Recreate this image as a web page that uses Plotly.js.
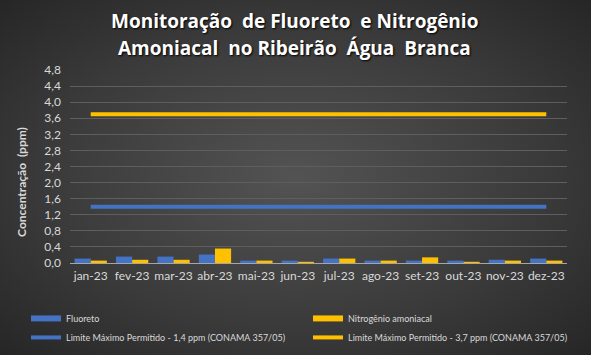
<!DOCTYPE html>
<html><head><meta charset="utf-8">
<script src="https://cdn.plot.ly/plotly-3.0.1.min.js"></script>
<style>
html,body{margin:0;padding:0;}
#chart{width:591px;height:355px;background:radial-gradient(ellipse at 50% 50%, #535353 0%, #3a3a3a 60%, #262626 100%);}
</style></head>
<body><div id="chart"></div>
<script>
const months = ['jan-23','fev-23','mar-23','abr-23','mai-23','jun-23','jul-23','ago-23','set-23','out-23','nov-23','dez-23'];
const fluoreto = [0.11,0.16,0.16,0.21,0.06,0.06,0.11,0.06,0.06,0.06,0.08,0.11];
const nitrogenio = [0.06,0.08,0.08,0.36,0.06,0.03,0.11,0.06,0.14,0.03,0.06,0.06];
const limiteFluoreto = [1.4,1.4,1.4,1.4,1.4,1.4,1.4,1.4,1.4,1.4,1.4,1.4];
const limiteNitrogenio = [3.7,3.7,3.7,3.7,3.7,3.7,3.7,3.7,3.7,3.7,3.7,3.7];
const yTicks = [0,0.4,0.8,1.2,1.6,2.0,2.4,2.8,3.2,3.6,4.0,4.4,4.8];
const titleLines = ['Monitoração  de Fluoreto  e Nitrogênio', 'Amoniacal  no Ribeirão  Água  Branca'];
const yTitle = 'Concentração  (ppm)';

const blue = '#4472C4', gold = '#FFC000';
const txt = '#d9d9d9';
const traces = [
  {type:'bar', x:months, y:fluoreto, name:'Fluoreto', marker:{color:blue}, showlegend:false, hoverinfo:'y'},
  {type:'bar', x:months, y:nitrogenio, name:'Nitrogênio amoniacal', marker:{color:gold}, showlegend:false, hoverinfo:'y'},
  {type:'scatter', mode:'lines', x:[null], y:[null], name:'Fluoreto', line:{color:blue, width:6}},
  {type:'scatter', mode:'lines', x:[null], y:[null], name:'Nitrogênio amoniacal', line:{color:gold, width:6}},
  {type:'scatter', mode:'lines', x:months, y:limiteFluoreto, name:'Limite Máximo Permitido - 1,4 ppm (CONAMA 357/05)', line:{color:blue, width:4}},
  {type:'scatter', mode:'lines', x:months, y:limiteNitrogenio, name:'Limite Máximo Permitido - 3,7 ppm (CONAMA 357/05)', line:{color:gold, width:4}}
];
const titleFont = {family:'Open Sans, sans-serif', size:19, color:'#ffffff', weight:'bold', shadow:'1px 1px 2px #000'};
const layout = {
  width:591, height:355,
  paper_bgcolor:'rgba(0,0,0,0)', plot_bgcolor:'rgba(0,0,0,0)',
  separators:',.',
  margin:{l:70, r:24, t:70, b:92, autoexpand:false},
  font:{family:'Lato, sans-serif', size:11, color:txt},
  annotations:[
    {text:titleLines[0], xref:'paper', yref:'paper', x:0.452, y:1.256, xanchor:'center', yanchor:'middle', showarrow:false, font:titleFont},
    {text:titleLines[1], xref:'paper', yref:'paper', x:0.452, y:1.116, xanchor:'center', yanchor:'middle', showarrow:false, font:titleFont},
    {text:yTitle, xref:'paper', yref:'paper', x:-0.0966, y:0.42, xanchor:'center', yanchor:'middle', textangle:-90, showarrow:false,
     font:{size:12, color:txt, weight:'bold'}}
  ],
  bargap:0.22, bargroupgap:0, barmode:'group',
  xaxis:{type:'category', showgrid:false, zeroline:false, showline:true, linecolor:'#a6a6a6', linewidth:1,
         ticks:'', tickfont:{size:12, color:txt}, ticklabelstandoff:2},
  yaxis:{range:[0,4.8], tickvals:yTicks, tickformat:'.1f', showgrid:true, gridcolor:'#5e5e5e', gridwidth:1,
         zeroline:false, showline:false, ticks:'', tickfont:{size:12, color:txt}, ticklabelstandoff:8},
  legend:{orientation:'h', x:-0.0885, xanchor:'left', y:-0.212, yanchor:'top',
          entrywidth:237, entrywidthmode:'pixels',
          font:{size:9, color:txt}, bgcolor:'rgba(0,0,0,0)', itemwidth:30, traceorder:'normal'},
  showlegend:true
};
Plotly.newPlot('chart', traces, layout, {displayModeBar:false, staticPlot:true});
</script></body></html>
